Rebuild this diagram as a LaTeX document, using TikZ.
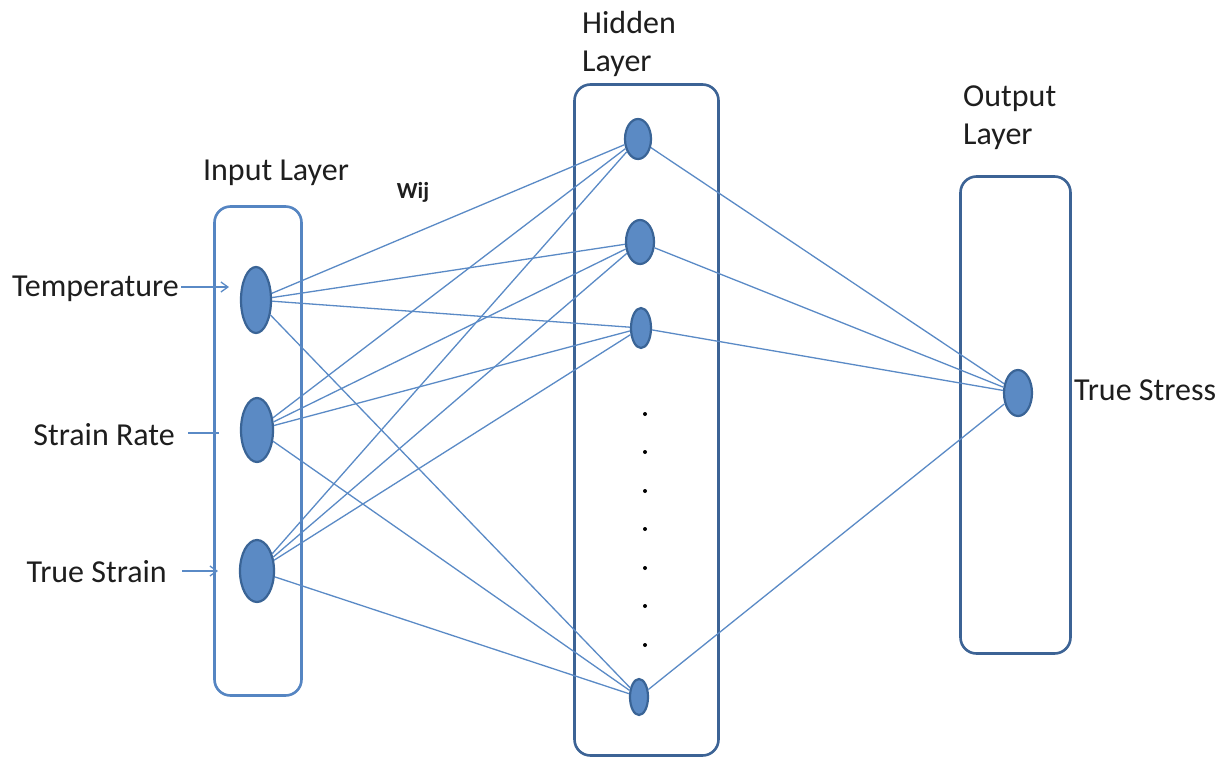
\documentclass[tikz,border=0pt]{standalone}
\usepackage{fontspec}
\setmainfont{Carlito}
\usetikzlibrary{shapes.geometric,arrows.meta}
\definecolor{boxblue}{HTML}{5585C2}
\definecolor{boxdark}{HTML}{3C6395}
\definecolor{wirecol}{HTML}{5A8AC6}
\definecolor{nodefill}{HTML}{5B8AC4}
\definecolor{nodeedge}{HTML}{3A6496}
\definecolor{txt}{HTML}{1E1E1E}
\begin{document}
\begin{tikzpicture}[x=1pt,y=-1pt,
  layerbox/.style={draw=boxdark,line width=2.6pt,rounded corners=16pt,inner sep=0pt},
  neuron/.style={ellipse,draw=nodeedge,line width=2.2pt,fill=nodefill,inner sep=0pt},
  wire/.style={draw=wirecol,line width=1.3pt},
  feed/.style={draw=wirecol,line width=1.3pt},
  lbl/.style={text=txt,font=\fontsize{32}{38}\selectfont,inner sep=0pt},
  dotmark/.style={circle,fill=black,inner sep=0pt,minimum size=4pt},
]
\useasboundingbox (0,0) rectangle (1228,758);
\fill[white] (0,0) rectangle (1228,758);

% layer frames
\node[layerbox,draw=boxblue,minimum width=87pt,minimum height=489pt] (inbox) at (258,451) {};
\node[layerbox,minimum width=144pt,minimum height=671pt] (hidbox) at (646.5,420) {};
\node[layerbox,minimum width=110pt,minimum height=477pt] (outbox) at (1015.5,415) {};

% layer titles
\node[lbl] (tin) at (276,173) {Input Layer};
\node[lbl,anchor=north west,align=left] (thid) at (582,11) {Hidden\\Layer};
\node[lbl,anchor=north west,align=left] (tout) at (963,86) {Output\\Layer};
\node[text=txt,font=\bfseries\fontsize{23}{26}\selectfont,inner sep=0pt] (wij) at (413,192) {Wij};

% neurons
\node[neuron,minimum width=30pt,minimum height=66pt] (in1) at (256,300) {};
\node[neuron,minimum width=32pt,minimum height=64pt] (in2) at (257,430) {};
\node[neuron,minimum width=34pt,minimum height=62pt] (in3) at (257,571) {};
\node[neuron,minimum width=26pt,minimum height=40pt] (h1) at (638,139) {};
\node[neuron,minimum width=28pt,minimum height=44pt] (h2) at (640,242) {};
\node[neuron,minimum width=20pt,minimum height=40pt] (h3) at (641,328) {};
\node[neuron,minimum width=18pt,minimum height=36pt] (h4) at (639,697) {};
\node[neuron,minimum width=28pt,minimum height=46pt] (out) at (1018,393) {};

% omitted hidden units
\foreach \k/\yy in {1/414,2/452,3/491,4/529,5/568,6/606,7/645}
  \node[dotmark] (dot\k) at (645,\yy) {};

% weights: input to hidden
\foreach \i in {1,2,3}
  \foreach \j in {1,2,3,4}
    \draw[wire] (in\i) -- (h\j);
% weights: hidden to output
\foreach \j in {1,2,3,4}
  \draw[wire] (h\j) -- (out);

% inputs and output labels
\node[lbl,anchor=east] (ltemp) at (179,289) {Temperature};
\node[lbl,anchor=east] (lrate) at (175,435) {Strain Rate};
\node[lbl,anchor=east] (lstrain) at (167,572) {True Strain};
\node[lbl,anchor=west] (lstress) at (1074,390) {True Stress};

\coordinate (atemp) at (229,287);
\coordinate (arate) at (219,433);
\coordinate (astrain) at (218,571);
\draw[feed,-{Straight Barb[length=7pt,width=10pt]}] (ltemp.east) ++(2,-2) coordinate (stemp) (stemp) -- (atemp);
\draw[feed] (lrate.east) ++(13,-2) coordinate (srate) (srate) -- (arate);
\draw[feed,-{Straight Barb[length=7pt,width=10pt]}] (lstrain.east) ++(15,-1) coordinate (sstrain) (sstrain) -- (astrain);
\end{tikzpicture}
\end{document}
